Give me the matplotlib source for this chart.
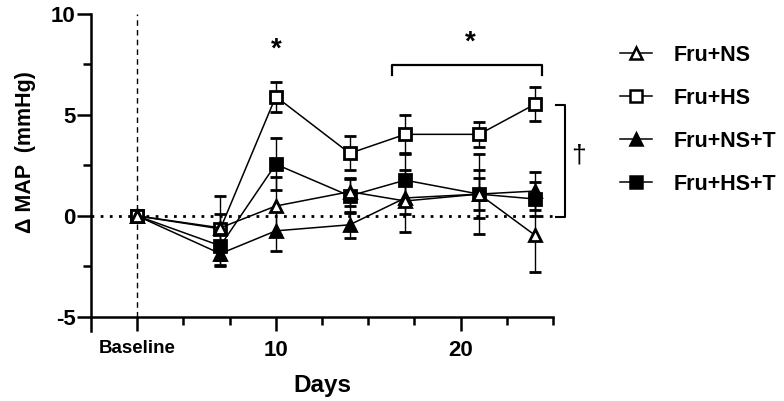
import matplotlib
matplotlib.use("Agg")
import matplotlib.pyplot as plt
from matplotlib.lines import Line2D

plt.rcParams['font.family'] = ['Liberation Sans', 'DejaVu Sans']
plt.rcParams['font.weight'] = 'bold'
plt.rcParams['axes.unicode_minus'] = False

# -----------------------------
# Data
# -----------------------------
days = [2.5, 7, 10, 14, 17, 21, 24]

fru_ns = [0, -0.59, 0.49, 1.2, 0.74, 1.08, -0.94]
fru_ns_err = [0, 1.6, 1.45, 0.7, 1.55, 2.0, 1.85]

fru_hs = [0, -0.64, 5.91, 3.1, 4.04, 4.04, 5.52]
fru_hs_err = [0, 0.75, 0.74, 0.84, 0.94, 0.62, 0.84]

fru_ns_t = [0, -1.87, -0.74, -0.44, 0.89, 1.08, 1.23]
fru_ns_t_err = [0, 0.6, 1.0, 0.63, 0.8, 0.8, 0.93]

fru_hs_t = [0, -1.48, 2.56, 0.99, 1.77, 1.08, 0.84]
fru_hs_t_err = [0, 0.95, 1.28, 0.85, 1.3, 1.2, 0.85]

labels = ['Fru+NS', 'Fru+HS', 'Fru+NS+T', 'Fru+HS+T']
x_ticks = [2.5, 10, 20]
x_ticklabels = ['Baseline', '10', '20']
x_minor = [5, 7.5, 12.5, 15, 17.5, 22.5, 25]
y_ticks = [-5, 0, 5, 10]
y_minor = [-2.5, 2.5, 7.5]

# -----------------------------
# Figure
# -----------------------------
fig = plt.figure(figsize=(7.84, 4.01), dpi=100)
ax = fig.add_axes([91 / 784, 70 / 401, 462 / 784, 317 / 401])

ax.set_xlim(0, 25)
ax.set_ylim(-5.7, 10)

# reference lines
ax.axvline(2.5, ymin=0.7 / 15.7, ymax=1, color='black', lw=1.0,
           linestyle=(0, (4, 3)), zorder=1)
ax.plot([0, 25], [0, 0], color='black', lw=2.0,
        linestyle=(0, (1, 2.3)), zorder=1)

series = [
    (fru_hs_t, fru_hs_t_err, 's', 'black'),
    (fru_hs, fru_hs_err, 's', 'white'),
    (fru_ns_t, fru_ns_t_err, '^', 'black'),
    (fru_ns, fru_ns_err, '^', 'white'),
]
for vals, errs, mk, fc in series:
    ax.errorbar(days, vals, yerr=errs, color='black', lw=1.1,
                elinewidth=1.0, capsize=4.5, capthick=1.0,
                marker=mk, markersize=9 if mk == 's' else 8.5,
                markerfacecolor=fc, markeredgecolor='black',
                markeredgewidth=2.0, zorder=3)

# spines
for s in ['top', 'right']:
    ax.spines[s].set_visible(False)
ax.spines['bottom'].set_position(('data', -5))
ax.spines['left'].set_linewidth(1.8)
ax.spines['bottom'].set_linewidth(1.8)

ax.set_xticks(x_ticks)
ax.set_xticklabels(x_ticklabels)
ax.set_xticks(x_minor, minor=True)
ax.set_yticks(y_ticks)
ax.set_yticks(y_minor, minor=True)
ax.tick_params(which='major', length=10, width=1.8, labelsize=16, pad=7)
ax.tick_params(which='minor', length=6, width=1.8)
ax.tick_params(axis='y', which='major', pad=1)
for lbl in ax.get_xticklabels():
    if lbl.get_text() == 'Baseline':
        lbl.set_fontsize(13.5)

ax.set_xlabel('Days', fontsize=17.5, fontweight='bold')
ax.xaxis.set_label_coords(0.5, -0.135)
ax.set_ylabel('Δ MAP  (mmHg)', fontsize=15.5, fontweight='bold')
ax.yaxis.set_label_coords(-0.12, 0.565)

# significance marks
ax.text(10, 8.25, '*', fontsize=20, fontweight='bold', ha='center', va='center')
ax.text(20.5, 8.6, '*', fontsize=20, fontweight='bold', ha='center', va='center')
ax.plot([16.3, 16.3, 24.4, 24.4], [7.0, 7.45, 7.45, 7.0], color='black',
        lw=1.6, clip_on=False)
ax.plot([25.15, 25.65, 25.65, 25.15], [5.5, 5.5, -0.05, -0.05],
        color='black', lw=1.5, clip_on=False)
ax.text(26.4, 3.0, '†', fontsize=19, fontweight='normal', ha='center',
        va='center', clip_on=False)

# legend
handles = [
    Line2D([], [], color='black', lw=1.1, marker='^', markersize=8,
           markerfacecolor='white', markeredgewidth=1.8),
    Line2D([], [], color='black', lw=1.1, marker='s', markersize=8.5,
           markerfacecolor='white', markeredgewidth=1.8),
    Line2D([], [], color='black', lw=1.1, marker='^', markersize=8,
           markerfacecolor='black', markeredgewidth=1.8),
    Line2D([], [], color='black', lw=1.1, marker='s', markersize=8.5,
           markerfacecolor='black', markeredgewidth=1.8),
]
fig.legend(handles, labels, loc='upper left', bbox_to_anchor=(620 / 784, 1 - 45 / 401),
           frameon=False, borderpad=0, borderaxespad=0,
           prop={'size': 15.5, 'weight': 'bold'},
           handlelength=1.5, handletextpad=1.0, labelspacing=1.02)

fig.savefig('out.png', dpi=100)
